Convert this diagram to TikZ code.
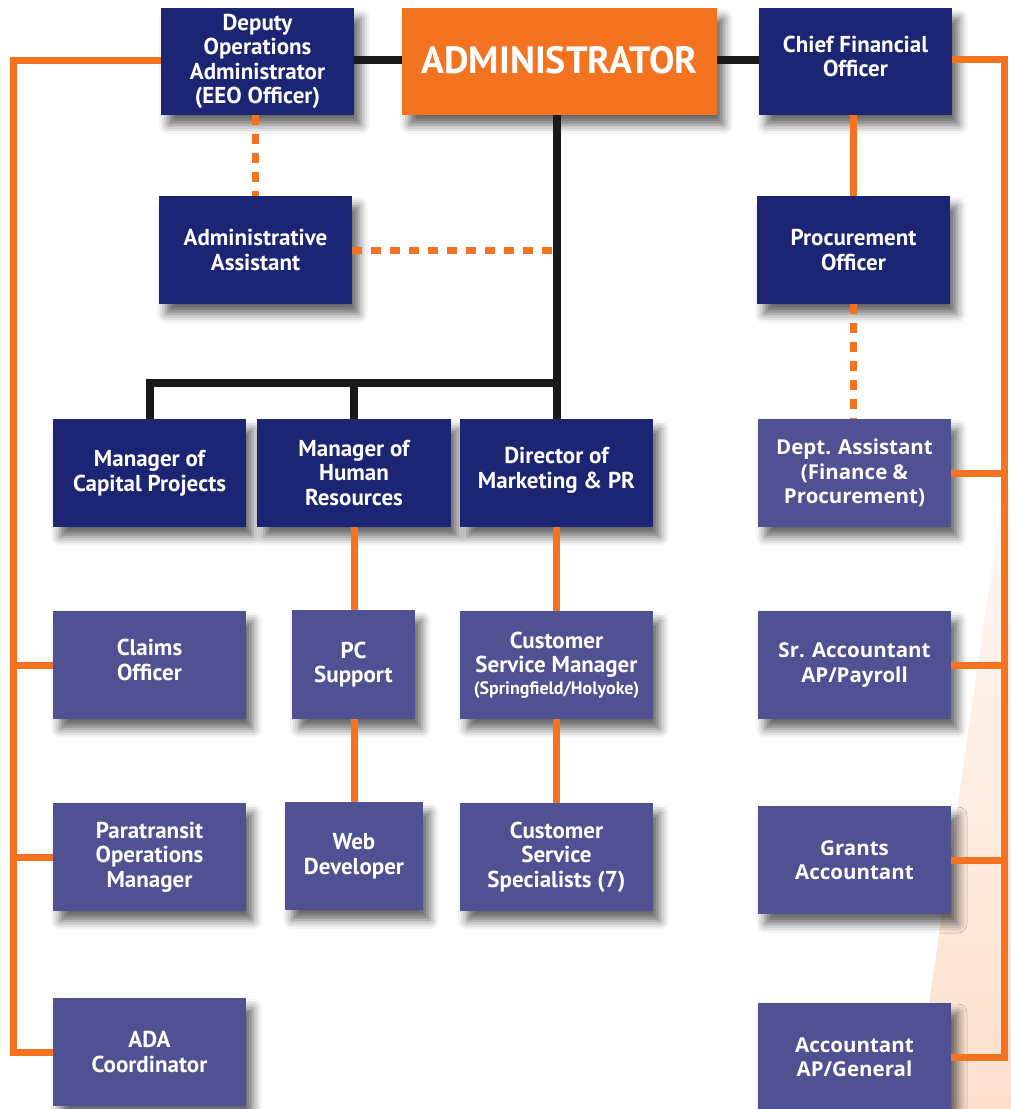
\documentclass[tikz,border=0pt]{standalone}
\usepackage{fontspec}
\setmainfont{PT Sans}
\newfontfamily\widefont{Open Sans}
\usetikzlibrary{shadows.blur}
\definecolor{navy}{RGB}{27,37,115}
\definecolor{lav}{RGB}{79,81,146}
\definecolor{orng}{RGB}{243,115,33}
\definecolor{peach}{RGB}{252,224,204}
\begin{document}
\begin{tikzpicture}[x=1pt,y=-1pt,
  box/.style={rectangle, text=white, align=center, inner sep=2pt,
    font=\bfseries\fontsize{23}{24.5}\selectfont,
    blur shadow={shadow xshift=7pt, shadow yshift=-10pt, shadow blur radius=9pt, shadow opacity=60}},
  dark/.style={box, fill=navy, minimum width=193pt, minimum height=107pt},
  light/.style={box, fill=lav, minimum width=193pt, minimum height=108pt},
  wide/.style={font=\widefont\bfseries\fontsize{20.5}{24.5}\selectfont},
  blk/.style={draw=black!90, line width=8pt},
  org/.style={draw=orng, line width=7pt},
  dsh/.style={draw=orng, line width=7pt, dash pattern=on 10pt off 9pt},
]
\useasboundingbox (0,0) rectangle (1011,1109);
% peach background wedge
\shade[top color=peach!20, bottom color=peach] (1003,490) -- (1011,490) -- (1011,1109) -- (914,1109) -- cycle;

\coordinate (bar) at (557,383);
\coordinate (lx) at (13,0);
\coordinate (rx) at (1004,0);

% nodes
\node[dark] (dep) at (257.5,61.5) {Deputy\\Operations\\Administrator\\(EEO Officer)};
\node[box, fill=orng, minimum width=315pt, minimum height=107pt, font=\bfseries\fontsize{38}{40}\selectfont] (admin) at (559.5,61.5) {\raisebox{4pt}{ADMINISTRATOR}};
\node[dark] (cfo) at (855.5,61.5) {Chief Financial\\Officer\\[-14pt]};
\node[dark, minimum height=108pt] (asst) at (255.5,250) {Administrative\\Assistant};
\node[dark, minimum height=108pt] (proc) at (853.5,250) {Procurement\\Officer};
\node[dark, minimum height=108pt] (cap) at (149.5,473) {Manager of\\Capital Projects};
\node[dark, minimum height=108pt, minimum width=194pt] (hr) at (354,473) {Manager of\\Human\\Resources};
\node[dark, minimum height=108pt] (mkt) at (556.5,473) {Director of\\Marketing \& PR\\[-14pt]};
\node[light, wide] (dept) at (854.5,473) {Dept. Assistant\\(Finance \&\\Procurement)};
\node[light] (claims) at (149.5,665) {Claims\\Officer\\[-14pt]};
\node[light, minimum width=123pt, minimum height=109pt] (pc) at (353.5,664.5) {PC\\Support};
\node[light] (csm) at (556.5,665) {Customer\\Service Manager\\[-3pt]{\fontsize{18}{19}\selectfont(Springfield/Holyoke)}};
\node[light, wide] (sracc) at (854.5,665) {Sr. Accountant\\AP/Payroll};
\node[light] (para) at (149.5,857) {Paratransit\\Operations\\Manager};
\node[light, minimum width=138pt] (web) at (354,856) {Web\\Developer};
\node[light] (css) at (556.5,857) {Customer\\Service\\Specialists (7)};
\node[light, wide] (grants) at (854.5,860) {Grants\\Accountant};
\node[light] (ada) at (149.5,1052) {ADA\\Coordinator};
\node[light, wide] (acc) at (854.5,1057) {Accountant\\AP/General};

% connectors
\draw[blk] (dep.east |- 0,60) -- (admin.west |- 0,60);
\draw[blk] (admin.east |- 0,60) -- (cfo.west |- 0,60);
\draw[blk] (mkt.north |- admin.south) -- (mkt.north);
\draw[blk] (cap.north) |- (bar);
\draw[blk] (hr.north |- bar) -- (hr.north);
\draw[dsh] (asst.north |- dep.south) -- (asst.north);
\draw[dsh] (asst.east) -- (asst.east -| bar);
\draw[org] (proc.north |- cfo.south) -- (proc.north);
\draw[dsh] (proc.south) -- (dept.north -| proc.south);
\draw[org] (hr.south) -- (hr.south |- pc.north);
\draw[org] (pc.south -| hr.south) -- (web.north -| hr.south);
\draw[org] (mkt.south) -- (csm.north);
\draw[org] (csm.south) -- (css.north);
% left bracket
\draw[org, line join=miter] (dep.west |- 0,60) -- (lx |- 0,60) -- (ada.west -| lx) -- (ada.west);
\draw[org] (claims.west -| lx) -- (claims.west);
\draw[org] (para.west -| lx) -- (para.west);
% right bracket
\draw[org, line join=miter] (cfo.east |- 0,59) -- (rx |- 0,59) -- (acc.east -| rx) -- (acc.east);
\draw[org] (dept.east -| rx) -- (dept.east);
\draw[org] (sracc.east -| rx) -- (sracc.east);
\draw[org] (grants.east -| rx) -- (grants.east);
\end{tikzpicture}
\end{document}
